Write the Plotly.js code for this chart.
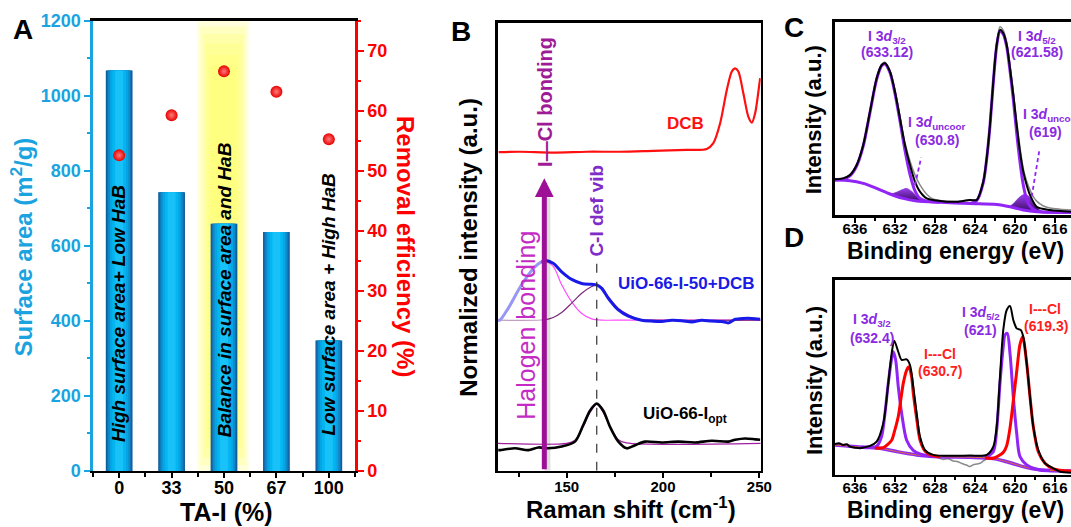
<!DOCTYPE html>
<html><head><meta charset="utf-8">
<script src="https://cdn.plot.ly/plotly-3.0.1.min.js"></script>
<style>html,body{margin:0;padding:0;background:#fff}#chart{width:1071px;height:527px}</style>
</head><body><div id="chart"></div>
<script>
// ---------- Panel A data ----------
const taCategories = ['0', '33', '50', '67', '100'];
const surfaceArea = [1068, 743, 659, 637, 348];
const removalEff = [52.6, 59.3, 66.6, 63.2, 55.3];

// ---------- Panel B data (Raman) ----------
const dcbX = [114.7,125.8,143.0,160.4,177.7,195.0,212.3,222.7,226.1,229.6,233.1,235.7,237.4,239.1,241.7,244.3,246.1,247.8,249.6,250.4];
const dcbY = [71.1,71.2,71.0,71.2,71.2,71.4,71.6,71.8,73.1,77.5,85.0,89.1,89.8,89.1,84.2,79.0,77.7,79.8,85.0,87.6];
const mixX = [114.5,115.4,119.7,126.6,133.5,138.7,143.0,147.4,152.6,157.8,163.0,165.6,168.2,171.6,176.8,182.0,188.9,194.0,199.3,204.5,209.7,215.0,220.1,225.0,230.5,234.0,237.4,241.5,246.1,250.4];
const mixY = [33.6,33.6,36.3,41.5,45.5,46.9,46.3,44.4,42.7,41.8,41.6,41.5,40.7,38.5,35.9,34.5,33.6,33.4,33.3,33.6,33.5,33.2,33.6,33.4,33.3,33.0,33.8,34.0,34.0,33.8];
const hbFitX = [114.2,115.4,119.7,126.6,133.5,137.9,143.0,147.4,152.6,157.8,163.0,168.2,175.0,250.7];
const hbFitY = [33.7,33.8,36.0,41.3,45.4,46.9,45.6,41.5,37.7,35.1,33.9,33.6,33.6,33.6];
const ciFitX = [114.2,138.7,143.0,147.4,152.6,157.8,163.0,165.6,168.2,171.6,176.8,182.0,188.9,195.0,250.7];
const ciFitY = [33.6,33.7,34.2,35.3,37.4,39.6,41.1,41.5,40.9,38.8,36.2,34.8,33.7,33.6,33.6];
const optX = [114.5,115.4,123.2,130.1,135.3,140.4,147.4,154.3,158.6,162.1,165.6,169.0,172.5,176.8,181.2,185.5,190.7,199.3,207.9,216.6,225.3,233.9,237.4,242.6,247.8,250.4];
const optY = [4.6,4.6,5.0,4.6,5.2,5.0,5.4,6.5,10.2,13.4,15.0,13.4,9.8,6.5,5.0,5.7,6.5,6.3,6.5,6.3,6.7,6.5,6.9,7.2,7.0,6.9];
const optFitX = [114.2,150.0,154.3,158.6,162.1,165.6,169.0,172.5,176.8,181.0,250.7];
const optFitY = [6.1,6.1,6.8,9.8,13.0,14.8,13.0,9.8,6.9,6.2,6.1];
const ciPeakPos = 165.6;     // C-I def vib
const hbPeakPos = 138.4;     // halogen bonding

// ---------- Panel C data (XPS, UiO-66-I) ----------
const cBgX = [638.0,636.5,635.17,633.83,632.5,631.17,629.83,627.5,624.5,621.83,620.5,619.17,617.83,614.4];
const cBgY = [18.1,17.8,16.4,13.8,10.9,8.6,7.3,6.6,6.0,5.5,4.3,2.6,1.7,1.4];
const cEnvX = [638.0,637.17,636.5,635.83,635.17,634.5,633.83,633.33,633.0,632.5,632.0,631.5,631.0,630.5,630.0,629.5,628.83,627.5,625.83,624.5,623.83,623.17,622.83,622.5,622.17,621.83,621.5,621.17,620.83,620.5,620.17,619.83,619.5,619.17,618.83,618.5,617.83,616.5,614.4];
const cEnvY = [18.5,19.0,20.7,25.9,36.3,53.5,70.8,77.7,78.6,74.3,63.9,50.1,36.3,25.9,17.3,12.1,8.6,7.3,6.9,7.8,7.8,17.3,29.4,46.6,69.1,88.1,95.9,94.1,88.1,76.0,62.2,46.6,32.8,22.4,15.5,10.4,4.3,2.6,1.7];
const cRawX = [638.0,637.17,636.5,635.83,635.17,634.5,633.83,633.33,633.0,632.5,632.0,631.5,631.0,630.5,630.0,629.5,628.83,628.2,627.5,625.83,624.5,623.83,623.17,622.83,622.5,622.17,621.83,621.5,621.17,620.83,620.5,620.17,619.83,619.5,619.17,618.83,618.5,618.17,617.83,617.2,616.5,615.5,614.4];
const cRawY = [18.6,19.2,20.9,26.0,36.5,53.8,71.0,78.0,79.2,74.8,64.5,51.0,37.5,28.0,20.8,15.6,10.8,8.3,7.5,7.0,7.9,8.0,17.5,29.8,47.0,69.5,88.8,97.5,95.6,89.5,77.5,64.0,48.5,35.0,24.0,17.5,13.0,9.5,7.2,4.8,3.6,3.0,2.6];
const cFit1X = [638.0,637.17,636.5,635.83,635.17,634.5,633.83,633.33,633.0,632.5,632.0,631.5,631.0,630.5,630.0,629.5,628.83,627.5];
const cFit1Y = [18.1,18.6,20.3,25.4,35.8,53.0,70.3,77.3,78.2,73.8,63.0,48.8,33.5,21.0,12.5,8.6,7.2,6.6];
const cFit2X = [624.5,623.83,623.17,622.83,622.5,622.17,621.83,621.5,621.17,620.83,620.5,620.17,619.83,619.5,619.17,618.83,618.5,617.83,614.4];
const cFit2Y = [6.0,7.4,16.8,29.0,46.2,68.7,87.6,95.4,93.6,87.3,74.8,60.0,42.5,27.5,15.5,8.0,4.5,2.0,1.4];
const cUnc1X = [632.4,631.8,631.2,630.8,630.3,629.8,629.3];
const cUnc1Top = [10.8,11.9,13.3,13.8,12.2,9.6,7.6];
const cUnc1Base = [10.7,9.7,8.65,8.2,7.8,7.3,7.1];
const cUnc2X = [620.5,620.0,619.5,619.0,618.5,618.0,617.5,617.2];
const cUnc2Top = [4.5,6.8,9.5,10.7,9.2,5.5,2.5,1.9];
const cUnc2Base = [4.3,3.6,3.0,2.5,2.1,1.8,1.65,1.6];

// ---------- Panel D data (XPS, UiO-66-I + DCB) ----------
const dBgX = [638.0,635.17,633.5,631.83,629.83,627.5,624.5,622.17,620.83,619.17,617.5,614.4];
const dBgY = [15.4,14.2,13.7,12.0,10.3,9.4,9.1,8.5,6.8,4.3,2.6,2.1];
const dEnvX = [638.0,637.6,637.17,636.8,636.5,636.0,635.5,635.0,634.5,633.83,633.17,632.67,632.33,632.07,631.67,631.33,630.83,630.5,630.17,629.83,629.5,629.0,628.17,624.5,622.83,622.17,621.83,621.5,621.17,620.83,620.5,620.17,619.83,619.43,619.17,618.83,618.5,618.17,617.67,617.0,616.17,615.5,614.4];
const dEnvY = [15.9,16.3,15.4,15.8,14.5,14.0,13.7,14.3,14.9,17.1,26.5,47.0,62.4,68.9,63.2,59.0,59.3,56.4,45.3,31.6,19.7,12.8,10.3,10.0,10.3,14.5,24.8,50.4,74.4,84.6,86.7,79.5,75.2,74.4,70.9,57.3,40.2,24.8,12.8,6.0,3.4,1.7,1.2];
const dRawX = [629.0,628.6,628.17,627.7,627.17,626.7,626.17,625.7,625.17,624.8,624.5,624.2,623.83,623.5,623.17,622.67,622.3];
const dRawY = [12.8,10.8,9.6,8.9,8.0,8.3,7.2,6.8,5.6,5.0,4.3,5.2,5.6,6.0,7.2,8.9,12.5];
const dV1X = [635.5,634.5,633.83,633.33,633.0,632.67,632.33,632.17,631.93,631.67,631.33,630.83,630.17,629.5,628.5,627.5];
const dV1Y = [14.2,14.3,14.8,19.9,31.6,47.0,59.8,63.2,59.0,45.3,31.6,17.8,12.6,10.8,9.8,9.4];
const dR1X = [634.0,633.17,632.33,632.07,631.67,631.17,630.83,630.6,630.33,630.17,629.83,629.5,629.0,628.5,627.5];
const dR1Y = [13.8,14.0,17.8,22.0,30.0,47.0,53.8,55.5,50.1,42.0,29.0,18.0,12.3,10.5,9.4];
const dV2X = [623.0,622.17,621.83,621.5,621.17,621.0,620.77,620.5,620.17,619.83,619.5,618.83,617.83,616.5];
const dV2Y = [9.0,12.0,23.1,47.0,65.8,71.8,72.6,62.4,40.2,21.4,9.4,5.2,3.0,2.4];
const dR2X = [623.0,622.17,621.17,620.83,620.5,620.17,619.83,619.5,619.23,618.83,618.5,618.17,617.67,617.0,616.17,614.4];
const dR2Y = [8.8,8.6,11.6,15.0,24.0,38.0,53.0,67.0,70.9,57.3,40.2,24.8,11.9,6.0,3.1,2.0];

// ---------- helpers / styles ----------
const W = 1071, H = 527;
const PX = x => x / W, PY = y => 1 - y / H;
const FAM = 'Liberation Sans, Arial, sans-serif';
const CYAN = '#1BA3DF', RED = '#FF0000', VIO = '#9025F5', VTXT = '#8A2BE2';
const traces = [];
const line = (x, y, xa, ya, color, width, extra) => Object.assign({
  type: 'scatter', mode: 'lines', x: x, y: y, xaxis: xa, yaxis: ya,
  line: {color: color, width: width, shape: 'spline', smoothing: 0.8},
  hoverinfo: 'skip', showlegend: false}, extra || {});

// Panel A bars (layered for a horizontal shading)
const taIndex = taCategories.map((_, i) => i);
[[0.51,'#0C5A96'],[0.47,'#1270B2'],[0.42,'#0E8BCC'],[0.35,'#07A4E3'],[0.26,'#03B6F1'],[0.15,'#18C2F8']]
  .forEach(([w, c]) => traces.push({type:'bar', x: taIndex, y: surfaceArea, width: w,
    marker:{color:c, line:{width:0}}, xaxis:'x', yaxis:'y', hoverinfo:'skip', showlegend:false}));
traces.push({type:'scatter', mode:'markers', x: taIndex, y: removalEff, xaxis:'x', yaxis:'y2',
  marker:{size:12, color:'#E80000', line:{width:0}, gradient:{type:'radial', color:'#FF7a7a'}},
  hoverinfo:'skip', showlegend:false});

// Panel B
traces.push(line(dcbX, dcbY, 'x3', 'y3', '#FF1010', 2.2));
traces.push(line(hbFitX, hbFitY, 'x3', 'y3', '#FF4DFF', 1.2));
traces.push(line(ciFitX, ciFitY, 'x3', 'y3', '#7A2A7A', 1.2));
traces.push(line(mixX, mixY, 'x3', 'y3', '#1A1AE8', 3));
traces.push(line(optFitX, optFitY, 'x3', 'y3', '#A020A0', 1.2));
traces.push(line(optX, optY, 'x3', 'y3', '#000000', 2.6));

// Panel C
traces.push(line(cUnc1X, cUnc1Base, 'x4', 'y4', 'rgba(0,0,0,0)', 0));
traces.push(line(cUnc1X, cUnc1Top, 'x4', 'y4', '#7B2BC8', 0.5, {fill:'tonexty', fillcolor:'#5A1890',
  fillgradient:{type:'vertical', colorscale:[[0,'#3A0A60'],[1,'#9A40F0']]}}));
traces.push(line(cUnc2X, cUnc2Base, 'x4', 'y4', 'rgba(0,0,0,0)', 0));
traces.push(line(cUnc2X, cUnc2Top, 'x4', 'y4', '#7B2BC8', 0.5, {fill:'tonexty', fillcolor:'#5A1890',
  fillgradient:{type:'vertical', colorscale:[[0,'#3A0A60'],[1,'#9A40F0']]}}));
traces.push(line(cRawX, cRawY, 'x4', 'y4', '#8A8A8A', 1.5));
traces.push(line(cBgX, cBgY, 'x4', 'y4', VIO, 3));
traces.push(line(cFit1X, cFit1Y, 'x4', 'y4', VIO, 3));
traces.push(line(cFit2X, cFit2Y, 'x4', 'y4', VIO, 3));
traces.push(line(cEnvX, cEnvY, 'x4', 'y4', '#000000', 2));

// Panel D
traces.push(line(dRawX, dRawY, 'x5', 'y5', '#8A8A8A', 1.5));
traces.push(line(dBgX, dBgY, 'x5', 'y5', VIO, 3.5));
traces.push(line(dBgX, dBgY, 'x5', 'y5', '#D8703A', 1));
traces.push(line(dV1X, dV1Y, 'x5', 'y5', VIO, 3));
traces.push(line(dR1X, dR1Y, 'x5', 'y5', '#FF0000', 3));
traces.push(line(dV2X, dV2Y, 'x5', 'y5', VIO, 3));
traces.push(line(dR2X, dR2Y, 'x5', 'y5', '#FF0000', 3));
traces.push(line(dEnvX, dEnvY, 'x5', 'y5', '#000000', 2));

// ---------- axes ----------
const tf = (size, color) => ({family: FAM, size: size, color: color || '#000', weight: 'bold'});
const boxX = (dom, anchor, extra) => Object.assign({domain: dom, anchor: anchor, showline: true, linecolor: '#000',
  linewidth: 2.5, mirror: true, ticks: 'outside', ticklen: 5, tickwidth: 2, tickcolor: '#000',
  showgrid: false, zeroline: false, tickfont: tf(15)}, extra);
const boxY = (dom, anchor, extra) => Object.assign({domain: dom, anchor: anchor, showline: true, linecolor: '#000',
  linewidth: 2.5, mirror: true, ticks: '', showticklabels: false, showgrid: false, zeroline: false}, extra);

const layout = {
  width: W, height: H, margin: {l: 0, r: 0, t: 0, b: 0},
  paper_bgcolor: '#fff', plot_bgcolor: 'rgba(0,0,0,0)', showlegend: false,
  barmode: 'overlay', font: {family: FAM},
  xaxis: boxX([0.0868, 0.3315], 'y', {range: [-0.5, 4.5], tickvals: taIndex, ticktext: taCategories,
    tickfont: tf(18), ticklen: 5, ticklabelstandoff: -6,
    minor: {tick0: 0.5, dtick: 1, ticklen: 4, tickwidth: 2, tickcolor: '#000'}}),
  yaxis: {domain: [0.1063, 0.9602], anchor: 'x', range: [0, 1200], dtick: 200, showline: true, linecolor: CYAN,
    linewidth: 2.5, ticks: 'outside', ticklen: 6, tickwidth: 2, tickcolor: CYAN, tickfont: tf(18, CYAN),
    minor: {dtick: 100, ticklen: 3, tickwidth: 2, tickcolor: CYAN}, showgrid: false, zeroline: false},
  yaxis2: {overlaying: 'y', side: 'right', anchor: 'x', range: [0, 75], tickvals: [0,10,20,30,40,50,60,70],
    showline: true, linecolor: RED, linewidth: 2.5, ticks: 'outside', ticklen: 6, tickwidth: 2, tickcolor: RED,
    tickfont: tf(18, RED), minor: {dtick: 5, ticklen: 3, tickwidth: 2, tickcolor: RED}, showgrid: false, zeroline: false},
  xaxis3: boxX([0.4647, 0.7103], 'y3', {range: [114.2, 250.7], tickvals: [150, 200, 250], ticklabelstandoff: -4,
    minor: {tickvals: [125, 175, 225], ticklen: 4, tickwidth: 2, tickcolor: '#000'}}),
  yaxis3: boxY([0.1068, 0.9569], 'x3', {range: [0, 100]}),
  xaxis4: boxX([0.7796, 1.0], 'y4', {range: [638, 614.4], tickvals: [636,632,628,624,620,616], ticklabelstandoff: -7,
    minor: {tickvals: [634,630,626,622,618], ticklen: 3, tickwidth: 2, tickcolor: '#000'}}),
  yaxis4: boxY([0.592, 0.9583], 'x4', {range: [0, 100]}),
  xaxis5: boxX([0.7796, 1.0], 'y5', {range: [638, 614.4], tickvals: [636,632,628,624,620,616], ticklabelstandoff: -7,
    minor: {tickvals: [634,630,626,622,618], ticklen: 3, tickwidth: 2, tickcolor: '#000'}}),
  yaxis5: boxY([0.0987, 0.4687], 'x5', {range: [0, 100]})
};

// ---------- shapes ----------
const band = [];
[[1.50,2.47,0,1200],[1.55,2.42,15,1185],[1.60,2.38,35,1165],[1.65,2.33,60,1140],[1.70,2.28,90,1110],[1.75,2.23,120,1080]]
  .forEach(([a, b, c, d]) => band.push({type:'rect', xref:'x', yref:'y', x0:a, x1:b, y0:c, y1:d,
    fillcolor:'rgba(255,255,90,0.22)', line:{width:0}, layer:'below'}));
layout.shapes = band.concat([
  // B: white fade over the left part of the curves
  {type:'rect', xref:'x3', yref:'y3', x0:114.4, x1:137, y0:33.2, y1:48, fillcolor:'rgba(255,255,255,0.55)', line:{width:0}, layer:'above'},
  // B: arrow shadow
  {type:'line', xref:'x3', yref:'y3', x0:hbPeakPos + 1.6, x1:hbPeakPos + 1.6, y0:0, y1:61, line:{color:'rgba(0,0,0,0.13)', width:6}, layer:'above'},
  // B: dashed marker of the C-I peak
  {type:'line', xref:'x3', yref:'y3', x0:ciPeakPos, x1:ciPeakPos, y0:0, y1:46.3, line:{color:'#333', width:1.2, dash:'dash'}, layer:'above'},
  // C: dashed arrows to the uncoordinated peaks
  {type:'line', xref:'x4', yref:'y4', x0:630.0, y0:15.5, x1:629.38, y1:29.8, line:{color:VIO, width:1.8, dash:'4px,3px'}, layer:'above'},
  {type:'line', xref:'x4', yref:'y4', x0:618.33, y0:9.5, x1:617.55, y1:34.0, line:{color:VIO, width:1.8, dash:'4px,3px'}, layer:'above'}
]);

// ---------- annotations ----------
const A = [];
const txt = (text, x, y, size, color, extra) => A.push(Object.assign({text: text, xref:'paper', yref:'paper',
  x: PX(x), y: PY(y), xanchor:'center', yanchor:'middle', showarrow:false,
  font:{family:FAM, size:size, color:color || '#000', weight:'bold'}}, extra || {}));

// panel letters
txt('A', 23.3, 30, 28); txt('B', 460.8, 31, 28); txt('C', 794, 28, 28); txt('D', 794, 237, 28);
// A titles
txt('Surface area (m<sup>2</sup>/g)', 21.7, 246.7, 24, CYAN, {textangle:-90});
txt('Removal efficiency (%)', 405.7, 246.7, 24, RED, {textangle:90});
txt('TA-I (%)', 226.7, 512, 25);
// A rotated notes (data coordinates)
const note = (text, xi, yv) => A.push({text: text, xref:'x', yref:'y', x: xi, y: yv, textangle:-90,
  showarrow:false, xanchor:'center', yanchor:'middle',
  font:{family:FAM, size:19, color:'#000', weight:'bold', style:'italic'}});
note('High surface area+ Low HaB', 0, 419);
note('Balance in surface area and HaB', 2, 482);
note('Low surface area + High HaB', 4, 446);
// B titles and labels
txt('Normalized intensity (a.u.)', 468.3, 247.5, 24, '#000', {textangle:-90});
txt('Raman shift (cm<sup>-1</sup>)', 630.8, 508, 24);
const bAnn = (text, x, y, size, color, extra) => A.push(Object.assign({text:text, xref:'x3', yref:'y3', x:x, y:y,
  showarrow:false, xanchor:'center', yanchor:'middle', font:{family:FAM, size:size, color:color, weight:'bold'}}, extra || {}));
bAnn('DCB', 211.8, 77.5, 17, '#FF1010');
bAnn('UiO-66-I-50+DCB', 212.3, 41.8, 17, '#1A1AE6');
bAnn('UiO-66-I<sub>opt</sub>', 211.6, 12.4, 17, '#000');
bAnn('C-I def vib', ciPeakPos, 58.0, 19, '#7F2CC8', {textangle:-90});
bAnn('I\u2014Cl bonding', hbPeakPos + 0.3, 82.3, 20, '#9E1A96', {textangle:-90});
A.push({text:'Halogen bonding', xref:'x3', yref:'y3', x:129.2, y:32.5, textangle:-90, showarrow:false,
  xanchor:'center', yanchor:'middle', font:{family:FAM, size:25, color:'#C42BC4', weight:'normal'}});
A.push({text:'', xref:'x3', yref:'y3', x:hbPeakPos, y:65.3, axref:'x3', ayref:'y3', ax:hbPeakPos, ay:0,
  showarrow:true, arrowhead:2, arrowsize:0.75, arrowwidth:5, arrowcolor:'#9E0F98'});
// C titles and labels
txt('Intensity (a.u.)', 814.3, 120, 22, '#000', {textangle:-90});
txt('Binding energy (eV)', 955.8, 250.5, 23);
txt('I 3<i>d</i><sub>3/2</sub>', 886.7, 36.7, 14, VTXT);
txt('(633.12)', 886.7, 52, 14, VTXT);
txt('I 3<i>d</i><sub>5/2</sub>', 1036.7, 36.7, 14, VTXT);
txt('(621.58)', 1036.7, 52, 14, VTXT);
txt('I 3<i>d</i><sub>uncoor</sub>', 936.7, 123.3, 14, VTXT);
txt('(630.8)', 936.7, 140, 14, VTXT);
txt('I 3<i>d</i><sub>uncoor</sub>', 1020.7, 114.5, 14, VTXT, {xanchor:'left'});
txt('(619)', 1045, 131.5, 14, VTXT);
A.push({text:'', xref:'x4', yref:'y4', x:629.33, y:31.1, axref:'x4', ayref:'y4', ax:629.4, ay:29.5,
  showarrow:true, arrowhead:2, arrowsize:1.1, arrowwidth:1.6, arrowcolor:VIO});
A.push({text:'', xref:'x4', yref:'y4', x:617.5, y:35.4, axref:'x4', ayref:'y4', ax:617.55, ay:33.8,
  showarrow:true, arrowhead:2, arrowsize:1.1, arrowwidth:1.6, arrowcolor:VIO});
// D titles and labels
txt('Intensity (a.u.)', 814.3, 380.8, 22, '#000', {textangle:-90});
txt('Binding energy (eV)', 955.8, 510, 23);
txt('I 3<i>d</i><sub>3/2</sub>', 871.7, 320, 14, VTXT);
txt('(632.4)', 871.5, 337.5, 14, VTXT);
txt('I---Cl', 940, 354, 14, '#FF2020');
txt('(630.7)', 940, 371, 14, '#FF2020');
txt('I 3<i>d</i><sub>5/2</sub>', 980.8, 313.3, 14, VTXT);
txt('(621)', 980, 329.5, 14, VTXT);
txt('I---Cl', 1044.7, 309, 14, '#FF2020');
txt('(619.3)', 1045.5, 325.8, 14, '#FF2020');
layout.annotations = A;

Plotly.newPlot('chart', traces, layout, {staticPlot: true, displayModeBar: false});
</script></body></html>
